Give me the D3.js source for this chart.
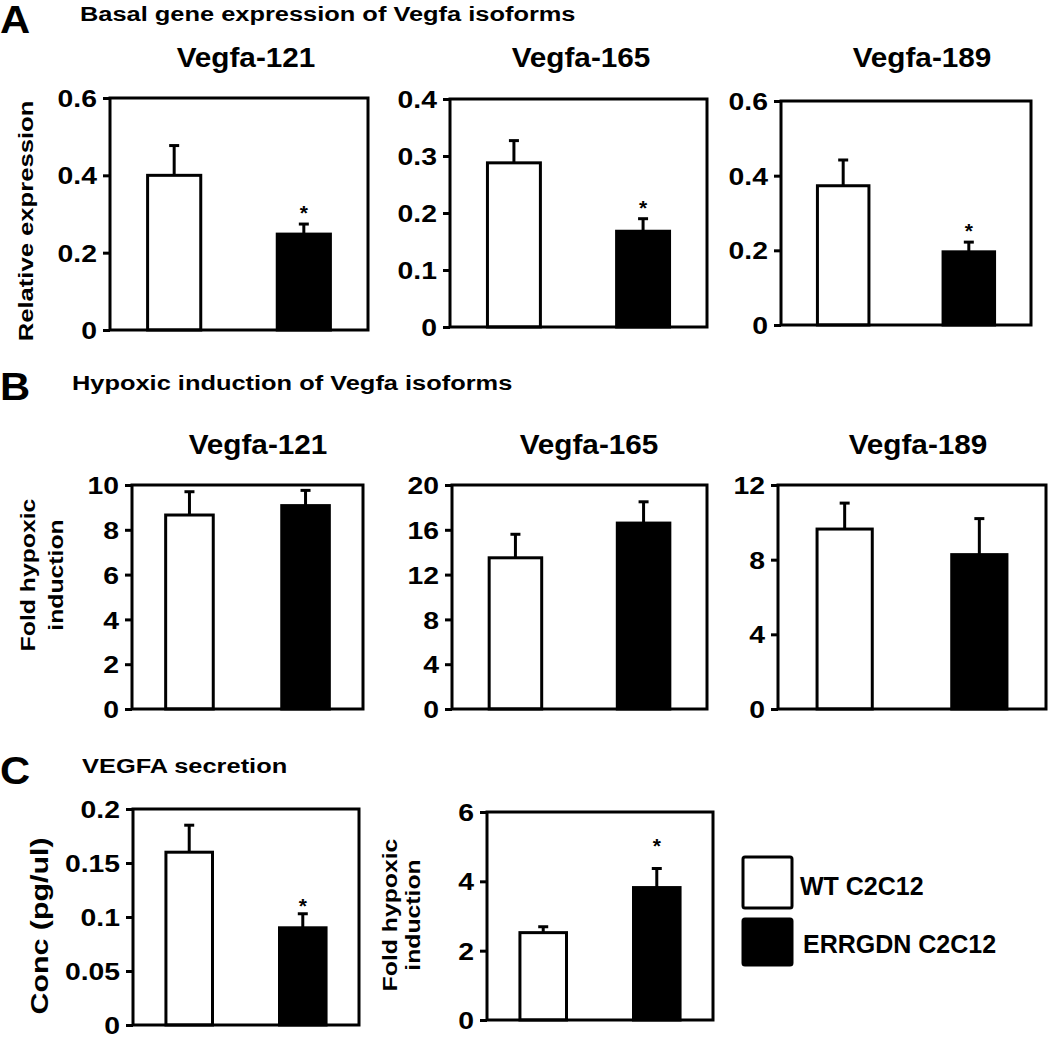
<!DOCTYPE html>
<html>
<head>
<meta charset="utf-8">
<script src="https://cdn.jsdelivr.net/npm/d3@7"></script>
<style>
  html, body { margin: 0; padding: 0; background: #fff; }
  svg { display: block; }
  text { font-family: "Liberation Sans", Arial, Helvetica, sans-serif; font-weight: bold; fill: #000; }
</style>
</head>
<body>
<svg id="chart" width="1050" height="1039"></svg>
<script>
// ---------------- DATA ----------------
const groups = ["WT C2C12", "ERRGDN C2C12"];
const isoforms = ["Vegfa-121", "Vegfa-165", "Vegfa-189"];

// Panel A: basal relative expression
const basalMeans = [[0.400, 0.248], [0.288, 0.168], [0.373, 0.196]];
const basalErrors = [[0.077, 0.026], [0.039, 0.022], [0.069, 0.026]];
const basalTicks = [[0, 0.2, 0.4, 0.6], [0, 0.1, 0.2, 0.3, 0.4], [0, 0.2, 0.4, 0.6]];
const basalSignificant = [[false, true], [false, true], [false, true]];

// Panel B: fold hypoxic induction
const hypoxicMeans = [[8.66, 9.08], [13.5, 16.6], [9.64, 8.27]];
const hypoxicErrors = [[1.04, 0.68], [2.1, 1.9], [1.39, 1.93]];
const hypoxicTicks = [[0, 2, 4, 6, 8, 10], [0, 4, 8, 12, 16, 20], [0, 4, 8, 12]];
const hypoxicSignificant = [[false, false], [false, false], [false, false]];

// Panel C: VEGFA secretion
const secretionMeans = [0.160, 0.090];
const secretionErrors = [0.025, 0.013];
const secretionTicks = [0, 0.05, 0.1, 0.15, 0.2];
const secretionSignificant = [false, true];

const secretionFoldMeans = [2.52, 3.82];
const secretionFoldErrors = [0.17, 0.55];
const secretionFoldTicks = [0, 2, 4, 6];
const secretionFoldSignificant = [false, true];

const panelTitles = ["Basal gene expression of Vegfa isoforms", "Hypoxic induction of Vegfa isoforms", "VEGFA secretion"];
const panelLetters = ["A", "B", "C"];
const yLabelA = ["Relative expression"];
const yLabelB = ["Fold hypoxic", "induction"];
const yLabelC1 = ["Conc (pg/ul)"];
const yLabelC2 = ["Fold hypoxic", "induction"];
const fills = ["#ffffff", "#000000"];

// ---------------- LAYOUT ----------------
const layoutA = [
  { x0: 110, x1: 368, y0: 98, y1: 330, tx: 246, ty: 67, star: 15 },
  { x0: 450, x1: 707, y0: 99, y1: 327, tx: 581, ty: 67, star: 15 },
  { x0: 781, x1: 1031, y0: 101, y1: 325, tx: 922, ty: 67, star: 15 }
];
const layoutB = [
  { x0: 132, x1: 363, y0: 485, y1: 709, tx: 258, ty: 454 },
  { x0: 452, x1: 707, y0: 485, y1: 709, tx: 589, ty: 454 },
  { x0: 778, x1: 1046, y0: 485, y1: 709, tx: 918, ty: 454 }
];
const layoutC = [
  { x0: 133, x1: 359, y0: 809, y1: 1025, star: 12 },
  { x0: 487, x1: 713, y0: 812, y1: 1020, star: 27 }
];

const svg = d3.select("#chart");
svg.append("rect").attr("width", 1050).attr("height", 1039).attr("fill", "#fff");

const stretchList = [];
function stretch(sel, k) { sel.each(function () { stretchList.push([this, k]); }); return sel; }

function drawPanel(L, means, errors, ticks, sig, title) {
  const g = svg.append("g");
  const x = d3.scaleBand().domain(groups).range([L.x0, L.x1]).paddingInner(0.59).paddingOuter(0.29);
  const y = d3.scaleLinear().domain([0, d3.max(ticks)]).range([L.y1, L.y0]);

  // axis
  const ax = g.append("g").attr("transform", `translate(${L.x0},0)`)
    .call(d3.axisLeft(y).tickValues(ticks).tickSize(7).tickPadding(6).tickFormat(d => String(d)));
  ax.select(".domain").remove();
  ax.selectAll(".tick line").attr("stroke", "#000").attr("stroke-width", 3);
  const tl = ax.selectAll(".tick text").attr("font-size", 24)
    .attr("fill", "#000").attr("dy", "0.36em");
  stretch(tl, 1.18);

  const data = groups.map((gname, i) => ({ g: gname, v: means[i], e: errors[i], s: sig[i], i }));
  const cx = d => x(d.g) + x.bandwidth() / 2;
  // error bars (upper only)
  g.selectAll(".err").data(data).join("line")
    .attr("x1", cx).attr("x2", cx)
    .attr("y1", d => y(d.v)).attr("y2", d => y(d.v + d.e))
    .attr("stroke", "#000").attr("stroke-width", 3);
  g.selectAll(".cap").data(data).join("line")
    .attr("x1", d => cx(d) - 5).attr("x2", d => cx(d) + 5)
    .attr("y1", d => y(d.v + d.e)).attr("y2", d => y(d.v + d.e))
    .attr("stroke", "#000").attr("stroke-width", 3);
  // bars
  g.selectAll(".bar").data(data).join("rect")
    .attr("x", d => x(d.g)).attr("width", x.bandwidth())
    .attr("y", d => y(d.v)).attr("height", d => y(0) - y(d.v))
    .attr("fill", d => fills[d.i]).attr("stroke", "#000").attr("stroke-width", 3);
  // significance stars
  g.selectAll(".star").data(data.filter(d => d.s)).join("text")
    .attr("x", cx)
    .attr("y", d => y(d.v + d.e) - (L.star || 15) + 11)
    .attr("text-anchor", "middle").attr("font-size", 21).text("*");

  // frame
  g.append("rect").attr("x", L.x0).attr("y", L.y0).attr("width", L.x1 - L.x0).attr("height", L.y1 - L.y0)
    .attr("fill", "none").attr("stroke", "#000").attr("stroke-width", 3);

  if (title) {
    stretch(g.append("text").attr("x", L.tx).attr("y", L.ty).attr("text-anchor", "middle")
      .attr("font-size", 27).text(title), 1.1);
  }
}

layoutA.forEach((L, i) => drawPanel(L, basalMeans[i], basalErrors[i], basalTicks[i], basalSignificant[i], isoforms[i]));
layoutB.forEach((L, i) => drawPanel(L, hypoxicMeans[i], hypoxicErrors[i], hypoxicTicks[i], hypoxicSignificant[i], isoforms[i]));
drawPanel(layoutC[0], secretionMeans, secretionErrors, secretionTicks, secretionSignificant, null);
drawPanel(layoutC[1], secretionFoldMeans, secretionFoldErrors, secretionFoldTicks, secretionFoldSignificant, null);

// panel letters and titles
const letterPos = [[0, 33], [0, 400], [0, 784]];
const titlePos = [[80, 21], [72, 390], [82, 773]];
panelLetters.forEach((t, i) => {
  stretch(svg.append("text").attr("x", letterPos[i][0]).attr("y", letterPos[i][1]).attr("font-size", 38).text(t), 1.1);
  stretch(svg.append("text").attr("x", titlePos[i][0]).attr("y", titlePos[i][1]).attr("font-size", 20).text(panelTitles[i]), 1.27);
});

// y-axis labels (rotated)
function yLabel(lines, xs, cy, fs, k) {
  lines.forEach((t, i) => {
    stretch(svg.append("text").attr("transform", `translate(${xs[i]},${cy}) rotate(-90)`)
      .attr("text-anchor", "middle").attr("font-size", fs).text(t), k);
  });
}
yLabel(yLabelA, [33], 221, 21, 1.22);
yLabel(yLabelB, [35, 63], 575, 21, 1.18);
yLabel(yLabelC1, [48], 926, 23, 1.32);
yLabel(yLabelC2, [397, 420], 915, 21, 1.18);

// legend
const legendPos = [[743, 857, 800, 895], [743, 919, 803, 953]];
groups.forEach((gname, i) => {
  svg.append("rect").attr("x", legendPos[i][0]).attr("y", legendPos[i][1]).attr("width", 49).attr("height", i === 0 ? 51 : 46)
    .attr("rx", 2).attr("fill", fills[i]).attr("stroke", "#000").attr("stroke-width", 3);
  svg.append("text").attr("x", legendPos[i][2]).attr("y", legendPos[i][3]).attr("font-size", 25).text(gname);
});

// apply horizontal stretching of the wide original lettering
stretchList.forEach(([el, k]) => {
  const len = el.getComputedTextLength();
  if (len > 0) {
    el.setAttribute("textLength", (len * k).toFixed(1));
    el.setAttribute("lengthAdjust", "spacingAndGlyphs");
  }
});
</script>
</body>
</html>
